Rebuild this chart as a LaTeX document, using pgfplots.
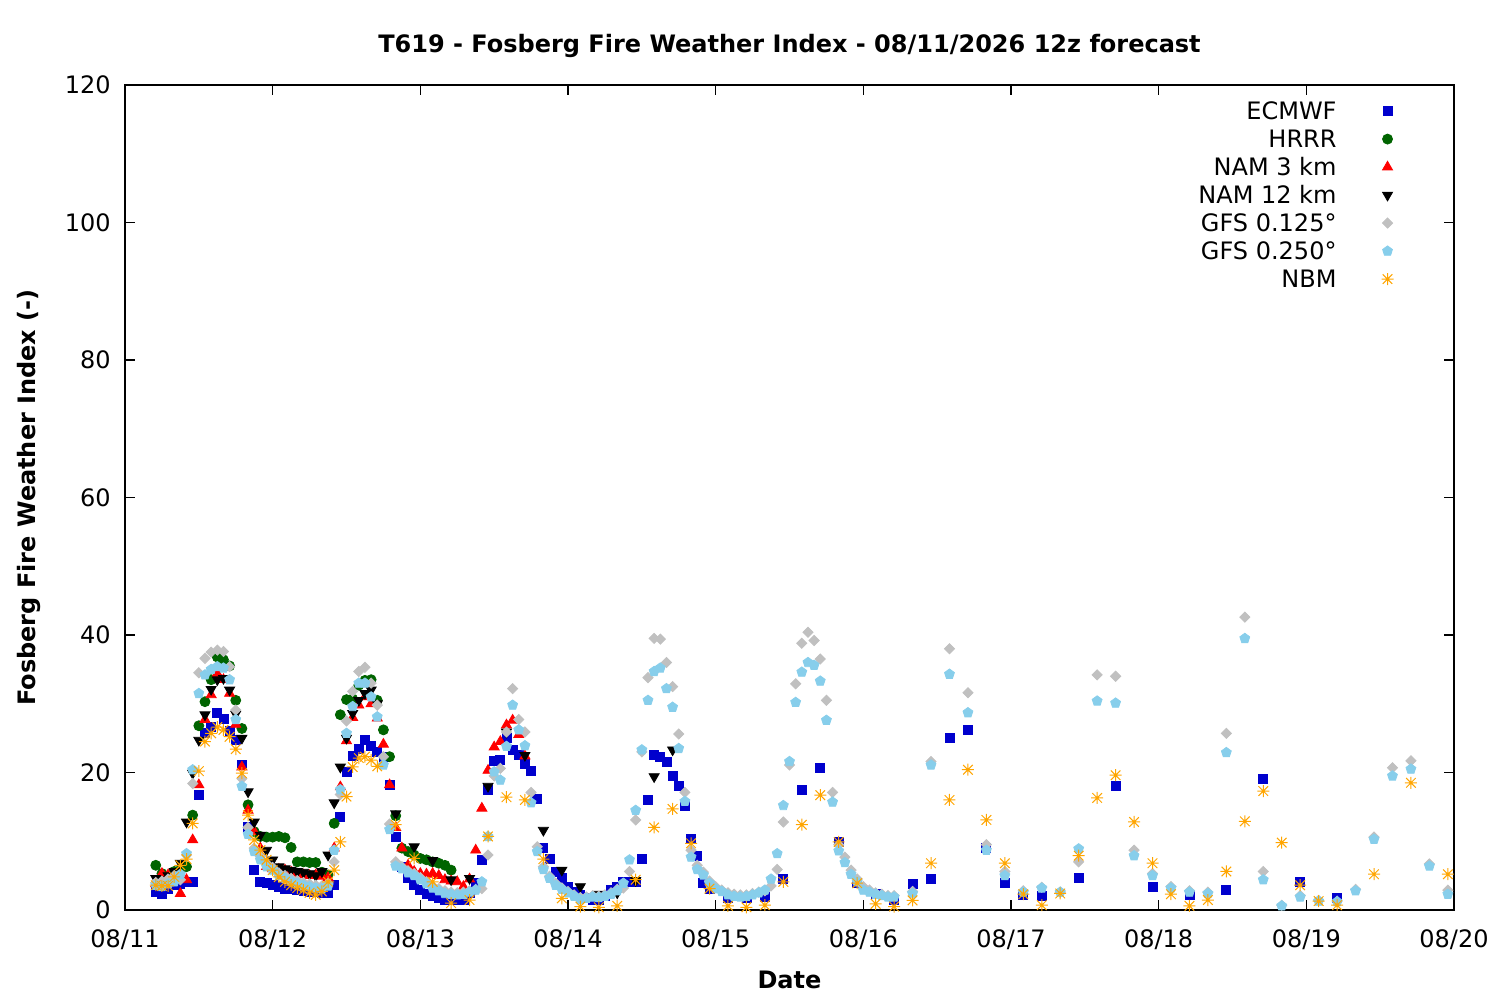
\documentclass[border=0pt]{standalone}
\usepackage{fontspec}
\setmainfont{DejaVu Sans}
\usepackage{pgfplots}
\pgfplotsset{compat=1.18}
\usetikzlibrary{plotmarks}
\definecolor{ecblue}{RGB}{0,0,205}
\definecolor{hrgreen}{RGB}{0,100,0}
\definecolor{gfsgrey}{RGB}{192,192,192}
\definecolor{gfsblue}{RGB}{135,206,235}
\definecolor{nbmorange}{RGB}{255,165,0}
\pgfdeclareplotmark{gpstar}{%
  \pgfpathmoveto{\pgfqpoint{-\pgfplotmarksize}{0pt}}\pgfpathlineto{\pgfqpoint{\pgfplotmarksize}{0pt}}%
  \pgfpathmoveto{\pgfqpoint{0pt}{-\pgfplotmarksize}}\pgfpathlineto{\pgfqpoint{0pt}{\pgfplotmarksize}}%
  \pgfpathmoveto{\pgfqpoint{-.8\pgfplotmarksize}{-.8\pgfplotmarksize}}\pgfpathlineto{\pgfqpoint{.8\pgfplotmarksize}{.8\pgfplotmarksize}}%
  \pgfpathmoveto{\pgfqpoint{-.8\pgfplotmarksize}{.8\pgfplotmarksize}}\pgfpathlineto{\pgfqpoint{.8\pgfplotmarksize}{-.8\pgfplotmarksize}}%
  \pgfusepathqstroke}
\newcommand{\fs}{\fontsize{12bp}{14bp}\selectfont}
\begin{document}
\begin{tikzpicture}
\path[use as bounding box] (0,0) rectangle (750bp,500bp);
\begin{axis}[
  at={(62.5bp,45bp)}, anchor=south west,
  scale only axis, width=664.5bp, height=412.5bp,
  xmin=0, xmax=216, ymin=0, ymax=120,
  clip=false,
  axis line style={line width=0.7bp},
  xtick={0,24,48,72,96,120,144,168,192,216},
  xticklabels={08/11,08/12,08/13,08/14,08/15,08/16,08/17,08/18,08/19,08/20},
  ytick={0,20,40,60,80,100,120},
  tick align=inside,
  major tick length=5bp,
  tick style={line width=0.6bp, black},
  /pgf/number format/assume math mode=true,
  tick label style={font=\fs},
  yticklabel style={inner sep=0pt, xshift=-7bp},
  xticklabel style={inner sep=0pt, anchor=base, yshift=-18.5bp},
  title={T619 - Fosberg Fire Weather Index - 08/11/2026 12z forecast},
  title style={at={(axis description cs:0.5,1)}, anchor=base, yshift=10.5bp, inner sep=0pt, font=\bfseries\fs},
  xlabel={Date},
  xlabel style={at={(axis description cs:0.5,0)}, anchor=base, yshift=-39bp, inner sep=0pt, font=\bfseries\fs},
  ylabel={Fosberg Fire Weather Index (-)},
  ylabel style={at={(axis description cs:0,0.5)}, anchor=base, yshift=45bp, inner sep=0pt, font=\bfseries\fs},
  legend plot pos=right,
  legend cell align=right,
  legend image code/.code={\draw[#1] plot coordinates {(0bp,0bp)};},
  legend style={draw=none, fill=none, inner sep=0pt, font=\fs,
    at={(axis description cs:0.9548,0.9834)}, anchor=north east,
    row sep=2bp, column sep=22.5bp,
    nodes={inner sep=0pt, text height=10bp, text depth=2bp}},
]
% ECMWF
\addplot[only marks, mark=square*, mark size=2.25bp, color=ecblue, mark options={fill=ecblue, draw=ecblue}] coordinates {
(5,2.7)(6,2.4)(7,3.0)(8,3.6)(9,3.8)(10,4.1)(11,4.1)(12,16.7)(13,25.7)(14,26.6)(15,28.6)(16,27.8)(17,26.0)(18,24.7)(19,21.1)(20,12.1)(21,5.8)(22,4.1)(23,4.0)(24,3.6)(25,3.3)(26,3.1)(27,3.0)(28,2.9)(29,2.8)(30,2.7)(31,2.6)(32,2.5)(33,2.5)(34,3.6)(35,13.6)(36,20.1)(37,22.4)(38,23.5)(39,24.7)(40,23.8)(41,23.0)(42,22.3)(43,18.2)(44,10.7)(45,6.2)(46,4.6)(47,3.6)(48,2.9)(49,2.3)(50,2.0)(51,1.8)(52,1.5)(53,1.5)(54,1.5)(55,1.5)(56,2.5)(57,4.0)(58,7.3)(59,17.5)(60,21.7)(61,21.9)(62,25.0)(63,23.3)(64,22.5)(65,21.3)(66,20.2)(67,16.1)(68,9.1)(69,7.4)(70,5.5)(71,4.6)(72,3.4)(73,2.7)(74,2.2)(75,1.8)(76,1.5)(77,1.5)(78,2.0)(79,2.9)(80,3.3)(81,4.1)(82,4.1)(83,4.1)(84,7.5)(85,16.0)(86,22.5)(87,22.3)(88,21.5)(89,19.5)(90,18.0)(91,15.2)(92,10.4)(93,7.8)(94,4.0)(95,3.0)(98,1.8)(101,1.7)(104,1.9)(107,4.5)(110,17.5)(113,20.6)(116,9.9)(119,3.9)(122,2.4)(125,1.5)(128,3.8)(131,4.5)(134,25.1)(137,26.2)(140,9.0)(143,4.0)(146,2.2)(149,2.1)(155,4.7)(161,18.0)(167,3.3)(173,2.2)(179,2.9)(185,19.1)(191,4.1)(197,1.8)
};
\addlegendentry{ECMWF}
% HRRR
\addplot[only marks, mark=*, mark size=2.5bp, color=hrgreen, mark options={fill=hrgreen, draw=hrgreen}] coordinates {
(5,6.5)(6,5.3)(7,4.9)(8,5.6)(9,5.8)(10,6.3)(11,13.8)(12,26.8)(13,30.3)(14,33.5)(15,36.8)(16,36.4)(17,35.5)(18,30.5)(19,26.4)(20,15.3)(21,11.4)(22,10.7)(23,10.6)(24,10.6)(25,10.7)(26,10.5)(27,9.1)(28,7.0)(29,7.0)(30,6.9)(31,6.9)(32,5.5)(33,5.1)(34,12.6)(35,28.4)(36,30.6)(37,30.7)(38,32.7)(39,33.4)(40,33.5)(41,30.5)(42,26.2)(43,22.3)(44,13.7)(45,9.0)(46,8.5)(47,8.0)(48,7.5)(49,7.3)(50,7.0)(51,6.8)(52,6.5)(53,5.8)
};
\addlegendentry{HRRR}
% NAM 3 km
\addplot[only marks, mark=triangle*, mark size=2.9bp, color=red, mark options={fill=red, draw=red}] coordinates {
(5,3.8)(6,5.3)(7,5.1)(8,4.5)(9,2.4)(10,4.4)(11,10.2)(12,18.2)(13,27.7)(14,31.3)(15,34.4)(16,33.5)(17,31.5)(18,27.0)(19,20.8)(20,14.5)(21,11.4)(22,9.0)(23,6.3)(24,6.0)(25,5.9)(26,5.8)(27,5.5)(28,5.1)(29,5.1)(30,5.0)(31,5.1)(32,4.9)(33,4.7)(34,9.0)(35,17.9)(36,24.6)(37,28.0)(38,29.8)(39,31.0)(40,30.0)(41,27.9)(42,24.1)(43,18.2)(44,12.0)(45,9.0)(46,6.5)(47,5.6)(48,5.3)(49,5.2)(50,5.3)(51,5.0)(52,4.4)(53,4.2)(54,4.1)(55,3.4)(56,4.5)(57,8.7)(58,14.8)(59,20.3)(60,23.7)(61,24.5)(62,26.9)(63,27.6)(64,25.5)(65,22.4)
};
\addlegendentry{NAM 3 km}
% NAM 12 km
\addplot[only marks, mark=triangle*, mark size=2.9bp, color=black, mark options={fill=black, draw=black, rotate=180}] coordinates {
(5,4.6)(6,4.4)(7,5.0)(8,5.6)(9,6.8)(10,12.8)(11,19.9)(12,24.7)(13,28.4)(14,32.1)(15,33.5)(16,33.7)(17,32.0)(18,28.5)(19,25.0)(20,17.2)(21,12.8)(22,10.9)(23,8.7)(24,7.3)(25,6.3)(26,6.0)(27,5.8)(28,5.6)(29,5.5)(30,5.3)(31,5.0)(32,5.6)(33,8.0)(34,15.6)(35,20.8)(36,25.0)(37,28.6)(38,30.5)(39,31.5)(40,32.0)(41,30.0)(44,14.0)(47,9.2)(50,7.2)(53,4.4)(56,4.6)(59,18.0)(62,25.9)(65,22.5)(68,11.6)(71,5.8)(74,3.4)(77,2.3)(80,2.5)(83,4.3)(86,19.4)(89,23.3)
};
\addlegendentry{NAM 12 km}
% GFS 0.125
\addplot[only marks, mark=square*, mark size=1.8bp, color=gfsgrey, mark options={fill=gfsgrey, draw=gfsgrey, rotate=45}] coordinates {
(5,4.0)(6,4.2)(7,4.5)(8,5.0)(9,4.4)(10,8.0)(11,18.4)(12,34.5)(13,36.6)(14,37.5)(15,37.8)(16,37.6)(17,35.4)(18,29.1)(19,19.1)(20,12.0)(21,9.0)(22,7.8)(23,6.8)(24,6.2)(25,5.4)(26,5.0)(27,4.6)(28,4.3)(29,4.0)(30,3.8)(31,3.6)(32,3.5)(33,3.9)(34,7.0)(35,16.8)(36,27.5)(37,31.8)(38,34.7)(39,35.3)(40,33.0)(41,29.8)(42,22.3)(43,12.5)(44,7.0)(45,6.3)(46,5.7)(47,5.3)(48,4.7)(49,4.1)(50,3.5)(51,3.1)(52,2.8)(53,2.6)(54,2.5)(55,2.6)(56,2.8)(57,3.0)(58,3.1)(59,8.0)(60,19.5)(61,20.6)(62,25.9)(63,32.2)(64,27.7)(65,25.9)(66,17.1)(67,9.2)(68,6.3)(69,4.9)(70,3.9)(71,3.2)(72,2.7)(73,2.2)(74,1.8)(75,1.9)(76,2.1)(77,2.0)(78,2.2)(79,2.5)(80,3.0)(81,3.2)(82,5.6)(83,13.1)(84,23.0)(85,33.8)(86,39.5)(87,39.4)(88,36.0)(89,32.5)(90,25.6)(91,17.1)(92,8.7)(93,6.5)(94,5.5)(95,4.2)(96,3.4)(97,2.9)(98,2.5)(99,2.3)(100,2.2)(101,2.2)(102,2.4)(103,2.6)(104,2.8)(105,3.5)(106,5.9)(107,12.8)(108,21.1)(109,32.9)(110,38.8)(111,40.4)(112,39.2)(113,36.5)(114,30.5)(115,17.1)(116,9.5)(117,7.7)(118,5.8)(119,4.5)(120,3.4)(121,2.9)(122,2.5)(123,2.3)(124,2.1)(125,2.1)(128,2.7)(131,21.6)(134,38.0)(137,31.6)(140,9.5)(143,5.6)(146,2.8)(149,3.3)(152,2.6)(155,7.0)(158,34.2)(161,34.0)(164,8.7)(167,5.3)(170,3.4)(173,2.8)(176,2.6)(179,25.7)(182,42.6)(185,5.6)(188,0.7)(191,2.1)(194,1.4)(197,1.3)(200,3.0)(203,10.6)(206,20.7)(209,21.7)(212,6.7)(215,2.9)
};
\addlegendentry{GFS 0.125°}
% GFS 0.250
\addplot[only marks, mark=pentagon*, mark size=2.6bp, color=gfsblue, mark options={fill=gfsblue, draw=gfsblue}] coordinates {
(5,3.6)(6,3.4)(7,3.8)(8,4.1)(9,5.2)(10,8.2)(11,20.4)(12,31.5)(13,34.2)(14,35.0)(15,35.4)(16,35.2)(17,33.5)(18,27.7)(19,18.0)(20,11.0)(21,8.5)(22,7.3)(23,6.3)(24,5.8)(25,5.0)(26,4.6)(27,4.2)(28,3.9)(29,3.6)(30,3.4)(31,3.2)(32,3.1)(33,3.5)(34,8.7)(35,17.5)(36,25.7)(37,29.6)(38,33.0)(39,33.0)(40,31.0)(41,28.1)(42,21.1)(43,11.7)(44,6.4)(45,6.0)(46,5.4)(47,5.0)(48,4.4)(49,3.8)(50,3.2)(51,2.8)(52,2.4)(53,2.3)(54,2.2)(55,2.3)(56,2.6)(57,2.9)(58,4.1)(59,10.7)(60,20.1)(61,18.9)(62,23.8)(63,29.8)(64,26.2)(65,23.9)(66,15.6)(67,8.5)(68,5.9)(69,4.6)(70,3.6)(71,3.0)(72,2.5)(73,2.0)(74,1.5)(75,1.7)(76,1.9)(77,1.8)(78,2.0)(79,2.3)(80,2.8)(81,3.9)(82,7.3)(83,14.5)(84,23.3)(85,30.5)(86,34.7)(87,35.2)(88,32.2)(89,29.5)(90,23.5)(91,15.8)(92,7.7)(93,5.9)(94,5.1)(95,3.9)(96,3.1)(97,2.7)(98,2.2)(99,2.0)(100,1.9)(101,2.0)(102,2.2)(103,2.5)(104,2.9)(105,4.5)(106,8.2)(107,15.2)(108,21.6)(109,30.2)(110,34.6)(111,36.0)(112,35.6)(113,33.3)(114,27.6)(115,15.7)(116,8.6)(117,6.9)(118,5.2)(119,4.1)(120,2.9)(121,2.6)(122,2.3)(123,2.1)(124,1.9)(125,1.9)(128,2.4)(131,21.1)(134,34.3)(137,28.7)(140,8.7)(143,5.0)(146,2.6)(149,3.2)(152,2.6)(155,8.9)(158,30.4)(161,30.1)(164,7.9)(167,5.0)(170,3.2)(173,2.6)(176,2.4)(179,22.9)(182,39.5)(185,4.4)(188,0.6)(191,1.9)(194,1.3)(197,1.2)(200,2.8)(203,10.3)(206,19.5)(209,20.5)(212,6.4)(215,2.3)
};
\addlegendentry{GFS 0.250°}
% NBM
\addplot[only marks, mark=gpstar, mark size=3bp, color=nbmorange, mark options={draw=nbmorange, line width=0.5bp}] coordinates {
(5,3.6)(6,3.5)(7,3.5)(8,4.8)(9,6.5)(10,7.4)(11,12.6)(12,20.2)(13,24.5)(14,25.7)(15,26.6)(16,26.2)(17,25.2)(18,23.4)(19,19.9)(20,13.8)(21,10.2)(22,8.7)(23,7.3)(24,5.8)(25,4.8)(26,4.1)(27,3.6)(28,3.2)(29,2.9)(30,2.5)(31,2.2)(32,2.7)(33,4.1)(34,5.8)(35,9.9)(36,16.5)(37,20.8)(38,22.1)(39,22.3)(40,21.8)(41,20.9)(44,12.4)(47,7.5)(50,4.1)(53,1.0)(56,1.45)(59,10.7)(62,16.4)(65,16.0)(68,7.4)(71,1.7)(74,0.5)(77,0.4)(80,0.6)(83,4.4)(86,12.0)(89,14.7)(92,9.7)(95,3.1)(98,0.6)(101,0.4)(104,0.7)(107,4.1)(110,12.4)(113,16.7)(116,9.9)(119,3.9)(122,0.9)(125,0.5)(128,1.4)(131,6.8)(134,16.0)(137,20.4)(140,13.1)(143,6.8)(146,2.3)(149,0.7)(152,2.4)(155,7.9)(158,16.3)(161,19.6)(164,12.8)(167,6.8)(170,2.3)(173,0.6)(176,1.45)(179,5.6)(182,12.9)(185,17.3)(188,9.8)(191,3.6)(194,1.3)(197,0.7)(203,5.2)(209,18.5)(215,5.2)
};
\addlegendentry{NBM}
\end{axis}
\end{tikzpicture}
\end{document}
